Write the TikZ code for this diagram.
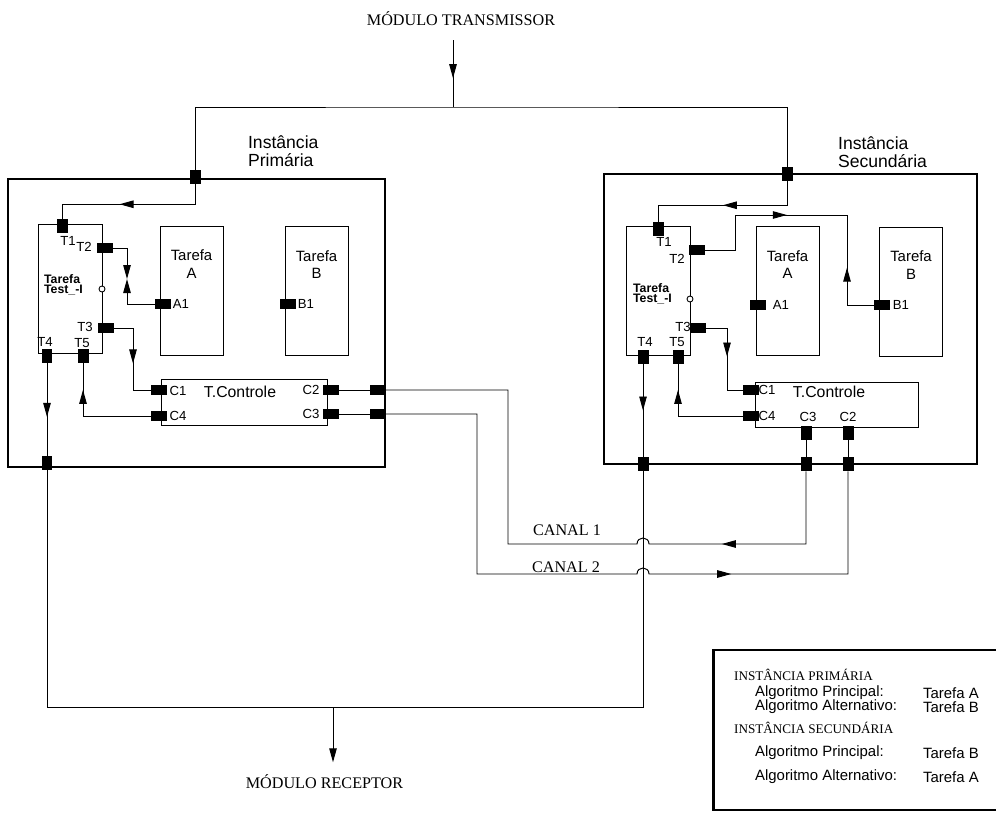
\documentclass[tikz,border=0pt]{standalone}
\usepackage{fontspec}
\setmainfont{Liberation Sans}
\newfontfamily\capsfont{Liberation Serif}
\usetikzlibrary{arrows.meta, positioning, calc, decorations.markings}

\begin{document}
\begin{tikzpicture}[
  x=0.02cm,
  y=-0.02cm,
  font=\fontsize{8.5}{10}\selectfont,
  >={Triangle[length=0.28cm, width=0.15cm]},
  wire/.style={line width=0.55pt},
  frame/.style={draw, line width=0.65pt, inner sep=0pt, outer sep=0pt},
  testbox/.style={draw, line width=0.55pt, inner sep=0pt, outer sep=0pt, minimum width=1.28cm, minimum height=2.58cm},
  task/.style={draw, line width=0.55pt, inner sep=0pt, outer sep=0pt, minimum width=1.26cm, minimum height=2.58cm},
  ctrl/.style={draw, line width=0.55pt, inner sep=0pt, outer sep=0pt},
  vport/.style={fill=black, inner sep=0pt, outer sep=0pt, minimum width=0.22cm, minimum height=0.29cm},
  hport/.style={fill=black, inner sep=0pt, outer sep=0pt, minimum width=0.32cm, minimum height=0.19cm},
  plabel/.style={font=\fontsize{7.5}{8}\selectfont, inner sep=1pt},
  tasktext/.style={font=\fontsize{8.5}{10}\selectfont, align=center, inner sep=2pt},
  testtext/.style={font=\bfseries\fontsize{7}{5.5}\selectfont, align=left, anchor=west, inner sep=1pt},
  instlabel/.style={font=\fontsize{10}{10.5}\selectfont, align=left, anchor=west, inner sep=1pt},
  heading/.style={font=\capsfont\fontsize{9.2}{10}\selectfont, inner sep=2pt},
  legcap/.style={font=\capsfont\fontsize{7.5}{8}\selectfont, anchor=west, inner sep=1pt},
  legtext/.style={font=\fontsize{8.5}{9}\selectfont, anchor=west, inner sep=1pt},
  iocirc/.style={circle, draw, fill=white, line width=0.5pt, inner sep=0pt, minimum size=0.12cm},
  flow/.style={postaction={decorate}, decoration={markings, mark=at position #1 with {\arrow{>}}}}
]
\useasboundingbox (0,0) rectangle (996,821);

% modulos externos
\node[heading, anchor=base] (tx) at (461,26) {MÓDULO TRANSMISSOR};
\node[heading, anchor=base] (rx) at (324.5,788) {MÓDULO RECEPTOR};
\coordinate (jtop) at (453,107);
\coordinate (jbot) at (333,707);

% instancias
\node[frame, minimum width=7.54cm, minimum height=5.76cm] (instP) at (196.5,323) {};
\node[frame, minimum width=7.46cm, minimum height=5.80cm] (instS) at (790.5,319) {};
\node[instlabel] (nameP) at (246,151) {Instância\\Primária};
\node[instlabel] (nameS) at (836,152) {Instância\\Secundária};

% tarefas
\node[testbox] (testP) at (70,288.5) {};
\node[testbox] (testS) at (658.5,291) {};
\node[task] (tAp) at (191.5,290.5) {};
\node[task] (tBp) at (316.5,291) {};
\node[task] (tAs) at (787.5,291) {};
\node[task] (tBs) at (911,291.5) {};
\node[tasktext, below=0.4cm of tAp.north] (nAp) {Tarefa\\A};
\node[tasktext, below=0.4cm of tBp.north] (nBp) {Tarefa\\B};
\node[tasktext, below=0.4cm of tAs.north] (nAs) {Tarefa\\A};
\node[tasktext, below=0.4cm of tBs.north] (nBs) {Tarefa\\B};
\node[testtext] (nTp) at (42,285) {Tarefa\\Test\_-I};
\node[testtext] (nTs) at (631,294) {Tarefa\\Test\_-I};
\node[iocirc] (ioP) at (102,289) {};
\node[iocirc] (ioS) at (690,299) {};

\node[ctrl, minimum width=3.32cm, minimum height=0.92cm] (ctrlP) at (244,402) {};
\node[ctrl, minimum width=3.26cm, minimum height=0.90cm] (ctrlS) at (836.5,404.5) {};
\node[font=\fontsize{9}{10}\selectfont, inner sep=1pt] (nCp) at (240,392) {T.Controle};
\node[font=\fontsize{9}{10}\selectfont, inner sep=1pt] (nCs) at (829,392) {T.Controle};

% portas
\foreach \pname/\px/\py in {pInP/195/177, T1p/62/226, T4p/47/356, T5p/83/356, pOutP/47/463,
    pInS/787/174, T1s/658/229, T4s/643/357, T5s/678/357, C3s/806/433, C2s/848/433,
    pOutS/643/464, pC3s/806/464, pC2s/848/464}
  \node[vport] (\pname) at (\px,\py) {};
\foreach \pname/\px/\py in {T2p/105/248, T3p/106/328, A1p/163/304, B1p/288/304,
    C1p/159/390, C4p/159/416, C2p/331/390, C3p/331/414, pC2/378/390, pC3/378/414,
    T2s/697/250, T3s/698/328, A1s/758/305, B1s/882/305, C1s/751/390, C4s/751/416}
  \node[hport] (\pname) at (\px,\py) {};

\foreach \lname/\lx/\ly/\ltext in {lT1p/68/241/T1, lT2p/84/247/T2, lT3p/85/327/T3,
    lT4p/45/342/T4, lT5p/82/343/T5, lA1p/181/304/A1, lB1p/306/304/B1,
    lC1p/178/391/C1, lC4p/178/416/C4, lC2p/311/390/C2, lC3p/311/414/C3,
    lT1s/664/242/T1, lT2s/677/259/T2, lT3s/683/327/T3, lT4s/645/342/T4,
    lT5s/677/342/T5, lA1s/781/305/A1, lB1s/901/305/B1, lC1s/767/390/C1,
    lC4s/767/416/C4, lC3s/808/417/C3, lC2s/848/417/C2}
  \node[plabel] (\lname) at (\lx,\ly) {\ltext};

% entrada e saida
\draw[wire, flow=0.57] ($(tx.south -| jtop)+(0,10)$) -- (jtop);
\draw[wire] (pInP.north) |- (jtop) -| (pInS.north);
\draw[wire] (pOutP.south) |- (jbot) -| (pOutS.south);
\draw[wire, ->] (jbot) -- ($(rx.north -| jbot)+(0,-8)$);

% instancia primaria
\coordinate (meetA) at (127,279);
\draw[wire, flow=0.57] (pInP.south) -- ++(0,20) -| (T1p.north);
\draw[wire, ->] (T2p.east) -| (meetA);
\draw[wire, ->] (A1p.west) -| (meetA);
\draw[wire, flow=0.55] (T3p.east) -- ++(19,0) |- (C1p.west);
\draw[wire, flow=0.78] (C4p.west) -| (T5p.south);
\draw[wire, flow=0.58] (T4p.south) -- (pOutP.north);
\draw[wire] (C2p.east) -- (pC2.west);
\draw[wire] (C3p.east) -- (pC3.west);

% instancia secundaria
\coordinate (meetB) at (847,215);
\draw[wire, flow=0.52] (pInS.south) -- ++(0,24) -| (T1s.north);
\draw[wire, flow=0.66] (T2s.east) -- ++(30,0) |- (meetB);
\draw[wire, flow=0.55] (B1s.west) -| (meetB);
\draw[wire, flow=0.5] (T3s.east) -- ++(21,0) |- (C1s.west);
\draw[wire, flow=0.78] (C4s.west) -| (T5s.south);
\draw[wire, flow=0.5] (T4s.south) -- (pOutS.north);
\draw[wire] (C3s.south) -- (pC3s.north);
\draw[wire] (C2s.south) -- (pC2s.north);

% canais
\coordinate (bend1) at (508,544);
\coordinate (bend2) at (477,574);
\coordinate (xing1) at (pOutS |- bend1);
\coordinate (xing2) at (pOutS |- bend2);
\draw[wire, flow=0.24] (pC3s.south) |- ($(xing1)+(6,0)$)
  .. controls ($(xing1)+(6,-8)$) and ($(xing1)+(-6,-8)$) .. ($(xing1)+(-6,0)$)
  -- (bend1) |- (pC2.east);
\draw[wire, flow=0.70] (pC3.east) -| (bend2) -- ($(xing2)+(-6,0)$)
  .. controls ($(xing2)+(-6,-8)$) and ($(xing2)+(6,-8)$) .. ($(xing2)+(6,0)$)
  -| (pC2s.south);
\node[heading] (canal1) at (567,530) {CANAL 1};
\node[heading] (canal2) at (566,567) {CANAL 2};

% legenda
\node[draw, line width=1.6pt, minimum width=5.94cm, minimum height=3.2cm] (legend) at (862,730) {};
\node[legcap] (lgP) at (732,675) {INSTÂNCIA PRIMÁRIA};
\node[legcap] (lgS) at (732,728) {INSTÂNCIA SECUNDÁRIA};
\foreach \gname/\gy/\gtext/\gtask in {gP1/693/Algoritmo Principal:/Tarefa A,
    gP2/707/Algoritmo Alternativo:/Tarefa B, gS1/753/Algoritmo Principal:/Tarefa B,
    gS2/777/Algoritmo Alternativo:/Tarefa A} {
  \node[legtext] (\gname) at (753,\gy) {\gtext};
  \node[legtext] (\gname t) at (921,\gy) {\gtask};
}

\end{tikzpicture}
\end{document}
